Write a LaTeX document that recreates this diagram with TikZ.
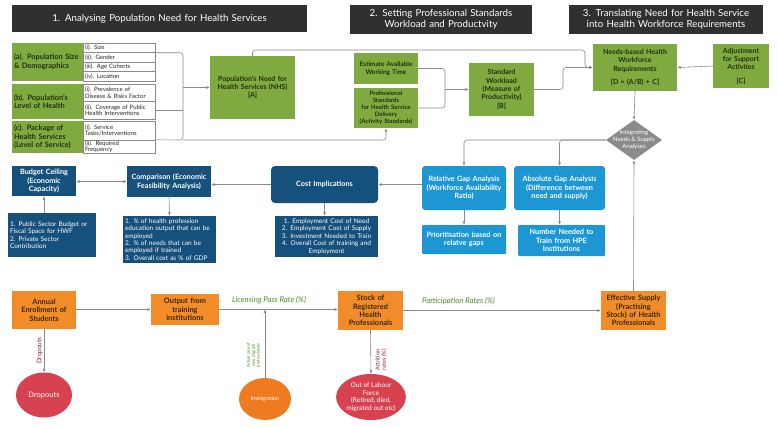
\documentclass[tikz,border=0pt]{standalone}
\usepackage{fontspec}
\setmainfont{Lato}
\usetikzlibrary{arrows.meta,shapes.geometric}
\definecolor{hdrgray}{HTML}{303030}
\definecolor{needgreen}{HTML}{7EAA3F}
\definecolor{needtext}{HTML}{22300F}
\definecolor{navy}{HTML}{16507C}
\definecolor{skyblue}{HTML}{1C97D4}
\definecolor{supplyorange}{HTML}{F28C28}
\definecolor{supplytext}{HTML}{3B2708}
\definecolor{lossred}{HTML}{D8414F}
\definecolor{immigorange}{HTML}{EF7B21}
\definecolor{linegray}{HTML}{8A8A8A}
\definecolor{rategreen}{HTML}{4E8A2A}
\definecolor{maroon}{HTML}{8C1C2C}
\newcommand{\feeds}[2]{\draw[flowline] (#1) -- (#2)}
\newcommand{\turns}[2]{\draw[flowline, rounded corners=3pt] (#1) -| (#2)}

\begin{document}
\begin{tikzpicture}[x=1pt, y=-1pt,
                    boxsize/.code 2 args={
                        \pgfmathsetmacro\boxtw{#1-4}
                        \tikzset{minimum width=#1pt, minimum height=#2pt, text width=\boxtw pt}
                    },
                    header/.style={
                        fill=hdrgray, text=white, align=center,
                        inner xsep=2pt, inner ysep=0pt,
                        font=\fontsize{9.7}{11.5}\selectfont
                    },
                    need/.style={
                        fill=needgreen, text=needtext, align=center,
                        inner xsep=2pt, inner ysep=0pt,
                        font=\bfseries\fontsize{7}{8.3}\selectfont
                    },
                    factor/.style={
                        need, align=left,
                        font=\bfseries\fontsize{7.4}{8.6}\selectfont
                    },
                    item/.style={
                        draw=linegray, line width=0.4pt, fill=white, text=black!85,
                        align=left, inner xsep=2pt, inner ysep=0pt,
                        font=\fontsize{6}{6.6}\selectfont
                    },
                    costbox/.style={
                        fill=navy, text=white, align=center,
                        inner xsep=2pt, inner ysep=0pt,
                        font=\bfseries\fontsize{7.3}{8.6}\selectfont
                    },
                    costnote/.style={
                        costbox, font=\fontsize{6.5}{7.4}\selectfont
                    },
                    gap/.style={
                        fill=skyblue, text=white, align=center, rounded corners=3pt,
                        inner xsep=2pt, inner ysep=0pt,
                        font=\bfseries\fontsize{7.3}{8.6}\selectfont
                    },
                    supply/.style={
                        fill=supplyorange, text=supplytext, align=center,
                        inner xsep=2pt, inner ysep=0pt,
                        font=\bfseries\fontsize{7.4}{8.4}\selectfont
                    },
                    loss/.style={
                        ellipse, fill=lossred, text=white, align=center, inner sep=0pt,
                        font=\fontsize{7}{8.2}\selectfont
                    },
                    flowline/.style={
                        draw=linegray, line width=0.6pt,
                        -{Latex[length=3.5pt,width=3pt]}
                    },
                    plainline/.style={
                        draw=linegray, line width=0.6pt, rounded corners=3pt
                    },
                    rate/.style={
                        text=rategreen, font=\itshape\fontsize{7.8}{9}\selectfont
                    }]
    \fill[white] (0,0) rectangle (778,426);
    \useasboundingbox (0,0) rectangle (778,426);

    \node[header, boxsize={295}{27}] (h1) at (159.5,18.5) {1. Analysing Population Need for Health Services};
    \node[header, boxsize={182}{29}] (h2) at (441,19.5) {2. Setting Professional Standards\\Workload and Productvity};
    \node[header, boxsize={194}{29}] (h3) at (666,19.5) {3. Translating Need for Health Service\\into Health Workforce Requirements};

    \node[factor, boxsize={71}{38}] (popA) at (47.5,62) {(a). Population Size\\\& Demographics};
    \node[factor, boxsize={71}{35}] (popB) at (47.5,101.5) {(b). Population's\\Level of Health};
    \node[factor, boxsize={71}{32}] (popC) at (47.5,137) {(c). Package of\\Health Services\\(Level of Service)};

    \node[item, boxsize={72}{9.5}] (a1) at (119,47.75) {(i). Size};
    \node[item, boxsize={72}{9.5}] (a2) at (119,57.25) {(ii). Gender};
    \node[item, boxsize={72}{9.5}] (a3) at (119,66.75) {(iii). Age Cohorts};
    \node[item, boxsize={72}{9.5}] (a4) at (119,76.25) {(iv). Location};
    \node[item, boxsize={72}{17.5}] (b1) at (119,92.75) {(i). Prevalence of\\Disease \& Risks Factor};
    \node[item, boxsize={72}{17.5}] (b2) at (119,110.25) {(ii). Coverage of Public\\Health Interventions};
    \node[item, boxsize={72}{19}] (c1) at (119,130.5) {(i). Service\\Tasks/Interventions};
    \node[item, boxsize={72}{13}] (c2) at (119,146.5) {(ii). Required\\Frequency};

    \node[need, boxsize={85}{63}] (nhs) at (252.5,87.5) {Population's Need for\\Health Services (NHS)\\{}[A]};
    \node[need, boxsize={64}{31}, font=\bfseries\fontsize{6.4}{7.6}\selectfont] (time) at (386,68.5) {Estimate Available\\Working Time};
    \node[need, boxsize={64}{40}, font=\bfseries\fontsize{6}{7}\selectfont] (stand) at (386,108) {Professional\\Standards\\for Health Service\\Delivery\\(Activity Standards)};
    \node[need, boxsize={65}{53}] (workload) at (501.5,89.5) {Standard\\Workload\\(Measure of\\Productivity)\\{}[B]};
    \node[need, boxsize={84}{47}] (needs) at (635,67.5) {Needs-based Health\\Workforce\\Requirements\\[5pt]{}[D = (A/B) + C]};
    \node[need, boxsize={56}{44}] (adjust) at (741,66) {Adjustment\\for Support\\Activites\\[5pt]{}[C]};

    \node[diamond, fill=linegray, text=white, align=center, inner sep=-9pt,
          minimum width=56pt, minimum height=40pt,
          font=\fontsize{6}{7}\selectfont] (integ) at (634,140) {Integrating\\Needs \& Supply\\Analyses};

    \node[gap, boxsize={84}{44}] (relgap) at (464,188) {Relative Gap Analysis\\(Workforce Availability\\Ratio)};
    \node[gap, boxsize={91}{44}] (absgap) at (559.5,188) {Absolute Gap Analysis\\(Difference between\\need and supply)};
    \node[gap, rounded corners=1pt, boxsize={84}{29}] (prior) at (464,239.5) {Prioritisation based on\\relatve gaps};
    \node[gap, rounded corners=1pt, boxsize={87}{31}] (numtrain) at (561.5,240.5) {Number Needed to\\Train from HPE\\Institutions};

    \node[costbox, rounded corners=4pt, boxsize={107}{37}] (cost) at (324.5,184.5) {Cost Implications};
    \node[costnote, boxsize={103}{41}] (costlist) at (326.5,236.5) {1. Employment Cost of Need\\2. Employment Cost of Supply\\3. Investment Needed to Train\\4. Overall Cost of training and\\Employment};
    \node[costbox, boxsize={84}{31}] (compare) at (169,181.5) {Comparison (Economic\\Feasibility Analysis)};
    \node[costnote, align=left, boxsize={93}{47}] (complist) at (169.5,239.5) {1. \% of health profession\\education output that can be\\employed\\2. \% of needs that can be\\employed if trained\\3. Overall cost as \% of GDP};
    \node[costbox, boxsize={64}{30}] (budget) at (44,181) {Budget Ceiling\\(Economic\\Capacity)};
    \node[costnote, align=left, boxsize={88}{44}] (budgetlist) at (52,235) {1. Public Sector Budget or\\Fiscal Space for HWF\\2. Private Sector\\Contribution};

    \node[supply, boxsize={64}{38}] (enrol) at (44,310) {Annual\\Enrollment of\\Students};
    \node[supply, boxsize={68}{31}] (output) at (185,309.5) {Output from\\training\\institutions};
    \node[supply, boxsize={65}{39}] (stock) at (370.5,310.5) {Stock of\\Registered\\Health\\Professionals};
    \node[supply, boxsize={65}{39}] (effsup) at (633.5,310.5) {Effective Supply\\(Practising\\Stock) of Health\\Professionals};

    \node[loss, minimum width=56pt, minimum height=45pt, font=\fontsize{7.5}{8.5}\selectfont] (dropouts) at (44,395) {Dropouts};
    \node[loss, fill=immigorange, minimum width=52pt, minimum height=42pt,
          font=\fontsize{5.4}{6.4}\selectfont] (immig) at (265,399) {Immigration};
    \node[loss, minimum width=60pt, minimum height=46pt, font=\fontsize{6.6}{7.6}\selectfont] (outlab) at (371,397) {Out of Labour\\Force\\(Retired, died,\\migrated out etc)};

    \coordinate (brk) at (183,87.5);
    \coordinate (brkend) at (183,140);
    \coordinate (topjog) at (585,50);
    \coordinate (brk2) at (445,89.5);
    \coordinate (wljog) at (563,80);

    \draw[plainline] (a1.south east) -| (brk) -- (brkend) -- (c2.north east);
    \draw[plainline] (b2.east) -- (b2.east -| brk);
    \feeds{brk}{nhs.west};
    \turns{brkend}{stand.south};
    \draw[flowline, rounded corners=3pt] (nhs.north) |- (topjog) |- (needs.west);
    \draw[plainline] (time.east) -| (brk2) |- (stand.east);
    \feeds{brk2}{workload.west};
    \draw[flowline, rounded corners=3pt] (workload.east) -| (wljog) |- (needs.west);
    \feeds{adjust.west}{needs.east};
    \feeds{needs.south}{integ.north};

    \turns{integ.west}{relgap.north};
    \turns{integ.west}{absgap.north};
    \feeds{relgap.south}{prior.north};
    \feeds{absgap.south}{absgap.south |- numtrain.north};
    \feeds{relgap.west |- cost.east}{cost.east};
    \feeds{cost.west}{compare.east |- cost.west};
    \draw[flowline, {Latex[length=3.5pt,width=3pt]}-{Latex[length=3.5pt,width=3pt]}] (budget.east |- compare.west) -- (compare.west);
    \feeds{budget.south |- budgetlist.north}{budget.south};
    \feeds{compare.south}{complist.north};
    \feeds{cost.south}{cost.south |- costlist.north};

    \feeds{enrol.east |- output.west}{output.west};
    \draw[flowline] (output.east) -- (output.east -| stock.west)
        node[rate, pos=0.42, above=2pt] {Licensing Pass Rate (\%)};
    \draw[flowline] (stock.east) -- (effsup.west)
        node[rate, pos=0.28, above=2pt] {Participation Rates (\%)};
    \feeds{effsup.north}{integ.south};
    \draw[flowline] (enrol.south) -- (dropouts.north)
        node[pos=0.5, rotate=90, above=-2pt, text=maroon, font=\fontsize{6.4}{7.4}\selectfont] {Dropouts};
    \draw[flowline] (stock.south) -- (outlab.north)
        node[pos=0.68, rotate=90, below=1pt, align=center, text=maroon, font=\fontsize{5.6}{6.4}\selectfont] {Attrition\\rates (\%)};
    \draw[flowline] (immig.north) -- (immig.north |- output.east)
        node[pos=0.33, rotate=90, above=1pt, align=center, text=rategreen, font=\fontsize{4.2}{4.9}\selectfont] {Actual rate of\\new migrant\\professionals};
\end{tikzpicture}
\end{document}
